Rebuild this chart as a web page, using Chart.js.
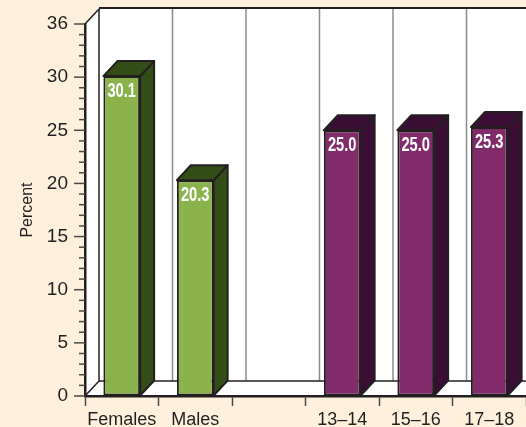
<!DOCTYPE html>
<html lang="en">
<head>
<meta charset="UTF-8">
<title>Percent by sex and grade</title>
<script src="https://cdn.jsdelivr.net/npm/chart.js"></script>
<style>
  body { margin: 0; background: #fdf1dc; }
  canvas { display: block; }
</style>
</head>
<body>
<canvas id="chart" width="526" height="427"></canvas>
<script>
  const categories = ['Females', 'Males', '', '13–14', '15–16', '17–18'];
  const sexValues = [30.1, 20.3, null, null, null, null];
  const gradeValues = [null, null, null, 25.0, 25.0, 25.3];
  const yTickLabels = ['0', '5', '10', '15', '20', '25', '30', '36'];

  // depth of the 3d effect
  const DX = 14, DY = -15;
  const cream = '#fdf1dc';
  const ink = '#231f20';
  const fontFamily = '"Liberation Sans", Arial, sans-serif';

  function line(ctx, x1, y1, x2, y2, color, w) {
    ctx.beginPath();
    ctx.moveTo(x1, y1);
    ctx.lineTo(x2, y2);
    ctx.strokeStyle = color;
    ctx.lineWidth = w;
    ctx.stroke();
  }

  function poly(ctx, pts, fill) {
    ctx.beginPath();
    ctx.moveTo(pts[0][0], pts[0][1]);
    for (let i = 1; i < pts.length; i++) ctx.lineTo(pts[i][0], pts[i][1]);
    ctx.closePath();
    ctx.fillStyle = fill;
    ctx.fill();
    ctx.strokeStyle = ink;
    ctx.lineWidth = 2;
    ctx.lineJoin = 'round';
    ctx.stroke();
  }

  const box3d = {
    id: 'box3d',
    beforeDraw(chart) {
      const ctx = chart.ctx;
      const { left, top, bottom } = chart.chartArea;
      const W = chart.width;
      const xs = chart.scales.x;
      ctx.save();
      ctx.fillStyle = cream;
      ctx.fillRect(0, 0, W, chart.height);

      // white walls and floor
      ctx.beginPath();
      ctx.moveTo(left, bottom);
      ctx.lineTo(left, top);
      ctx.lineTo(left + DX, top + DY);
      ctx.lineTo(W, top + DY);
      ctx.lineTo(W, bottom);
      ctx.closePath();
      ctx.fillStyle = '#fff';
      ctx.fill();

      // back wall grid at category boundaries
      for (let i = 1; i < categories.length; i++) {
        const bx = (xs.getPixelForValue(i - 1) + xs.getPixelForValue(i)) / 2 + DX;
        line(ctx, bx, top + DY, bx, bottom + DY, '#8c8c8c', 1.5);
      }

      line(ctx, left + DX, top + DY - 1, W, top + DY - 1, ink, 2);
      line(ctx, left + DX, top + DY, left + DX, bottom + DY, ink, 1.5);
      line(ctx, left + DX, bottom + DY, W, bottom + DY, ink, 1.5);
      line(ctx, left, top, left + DX, top + DY, ink, 1.5);
      line(ctx, left, bottom, left + DX, bottom + DY, ink, 1.5);
      ctx.restore();
    },
    afterDatasetsDraw(chart) {
      const ctx = chart.ctx;
      ctx.save();
      chart.data.datasets.forEach((ds, di) => {
        const meta = chart.getDatasetMeta(di);
        meta.data.forEach((bar, i) => {
          const v = ds.data[i];
          if (v == null) return;
          const { x, y, base, width } = bar.getProps(['x', 'y', 'base', 'width'], true);
          const L = x - width / 2, R = x + width / 2;
          poly(ctx, [[R, y], [R + DX, y + DY], [R + DX, base + DY], [R, base]], ds.sideColor);
          poly(ctx, [[L, y], [L + DX, y + DY], [R + DX, y + DY], [R, y]], ds.sideColor);

          ctx.save();
          ctx.translate(L + 4, y + 21);
          ctx.scale(0.7, 1);
          ctx.font = 'bold 21px ' + fontFamily;
          ctx.fillStyle = '#fff';
          ctx.textAlign = 'left';
          ctx.textBaseline = 'alphabetic';
          ctx.fillText(v.toFixed(1), 0, 0);
          ctx.restore();
        });
      });

      // y axis tick marks, long every 5
      const ys = chart.scales.y;
      const left = chart.chartArea.left;
      for (let v = ys.min; v <= ys.max; v++) {
        const py = ys.getPixelForValue(v);
        const len = v % 5 === 0 ? 11 : 6;
        line(ctx, left - len, py, left, py, '#4a4a4a', 1.5);
      }
      ctx.restore();
    }
  };

  new Chart(document.getElementById('chart'), {
    type: 'bar',
    data: {
      labels: categories,
      datasets: [
        {
          label: 'Sex',
          data: sexValues,
          backgroundColor: '#8bb34b',
          sideColor: '#334d17',
          borderColor: ink,
          borderWidth: 2,
          borderSkipped: false
        },
        {
          label: 'Grade',
          data: gradeValues,
          backgroundColor: '#822b6a',
          sideColor: '#3a0d34',
          borderColor: ink,
          borderWidth: 2,
          borderSkipped: false
        }
      ]
    },
    options: {
      responsive: false,
      animation: false,
      layout: { padding: { top: 24, left: 0, right: 0, bottom: 0 } },
      datasets: { bar: { barPercentage: 0.5, categoryPercentage: 1 } },
      plugins: {
        legend: { display: false },
        tooltip: { enabled: false }
      },
      scales: {
        x: {
          stacked: true,
          grid: { drawOnChartArea: false, drawTicks: true, tickLength: 10, tickColor: '#4a4a4a', tickWidth: 1.5 },
          border: { color: ink, width: 2.5 },
          ticks: { color: ink, font: { family: fontFamily, size: 18 }, padding: 3, maxRotation: 0, autoSkip: false },
          afterFit(s) { s.height = 31; s.paddingLeft = 0; s.paddingRight = 0; }
        },
        y: {
          stacked: true,
          min: 0,
          max: 35,
          grid: { drawOnChartArea: false, drawTicks: false },
          border: { color: ink, width: 2.5 },
          ticks: {
            stepSize: 5,
            padding: 17,
            color: ink,
            font: { family: fontFamily, size: 19 },
            callback: (v, i) => yTickLabels[i]
          },
          title: {
            display: true,
            text: 'Percent',
            color: ink,
            font: { family: fontFamily, size: 16 },
            padding: { top: 18, bottom: 0 }
          },
          afterFit(s) { s.width = 85; s.paddingTop = 0; s.paddingBottom = 0; }
        }
      }
    },
    plugins: [box3d]
  });
</script>
</body>
</html>
